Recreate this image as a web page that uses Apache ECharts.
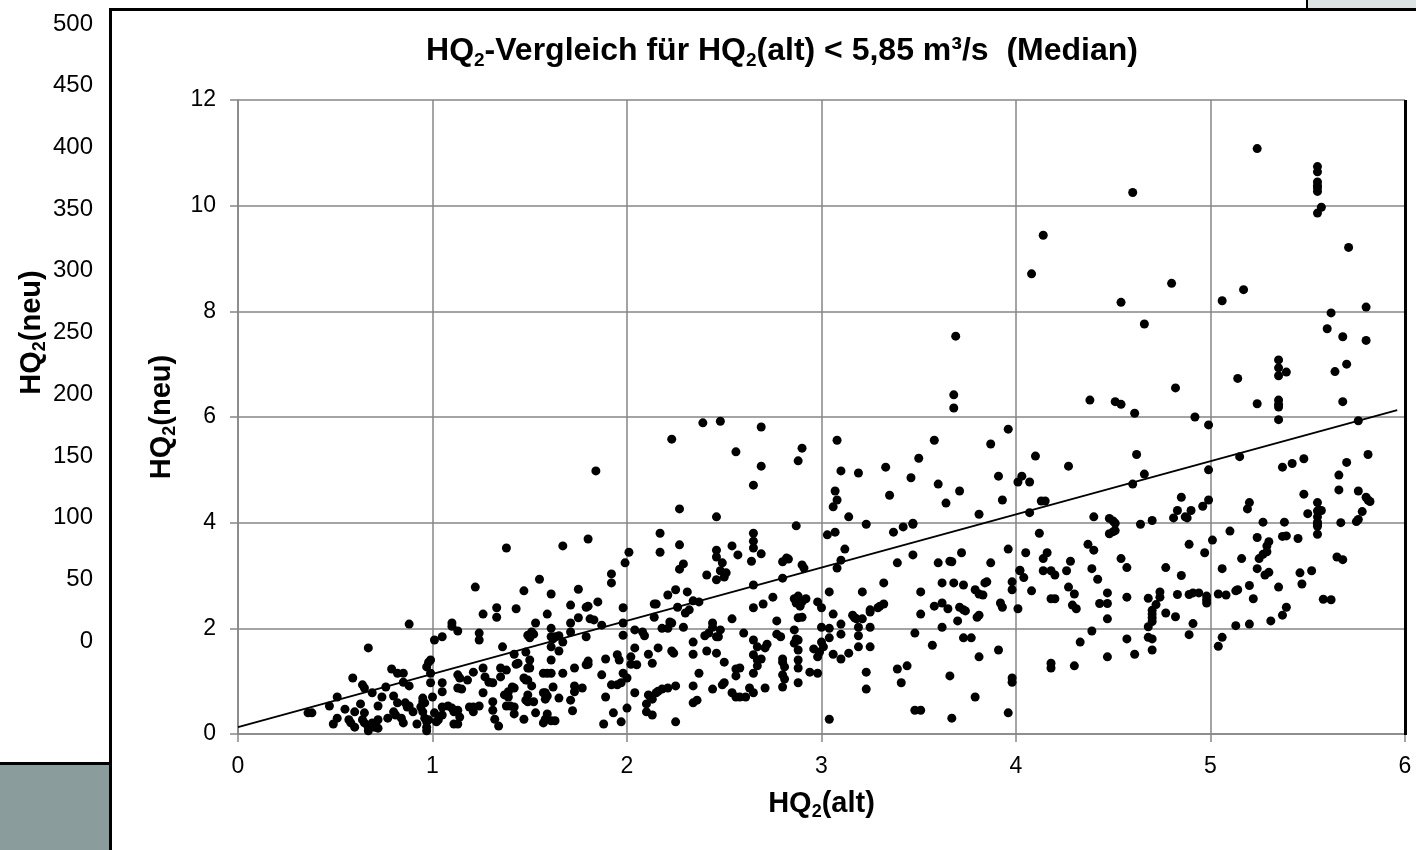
<!DOCTYPE html>
<html>
<head>
<meta charset="utf-8">
<script src="https://cdn.jsdelivr.net/npm/echarts@6/dist/echarts.min.js"></script>
<style>
html,body{margin:0;padding:0;background:#fff;}
#chart{width:1416px;height:850px;}
</style>
</head>
<body>
<div id="chart"></div>
<script>
// ---- DATA ----
// Each pair: [HQ2(alt), HQ2(neu)] in m³/s
const hqPoints = [
[0.36,0.40],[0.38,0.40],[0.47,0.53],[0.51,0.70],[0.49,0.19],[0.51,0.30],[0.55,0.47],[0.57,0.27],[0.58,0.21],[0.60,0.13],
[0.59,1.06],[0.60,0.42],[0.64,0.93],[0.65,0.87],[0.63,0.57],[0.64,0.27],[0.65,0.21],[0.67,0.13],[0.67,0.06],[0.69,0.21],
[0.70,0.13],[0.72,0.27],[0.72,0.11],[0.65,0.40],[0.67,1.63],[0.69,0.78],[0.72,0.53],[0.74,0.70],[0.76,0.89],[0.77,0.30],
[0.79,1.23],[0.80,0.72],[0.80,0.42],[0.81,0.36],[0.82,0.59],[0.82,1.15],[0.85,1.15],[0.85,0.98],[0.84,0.30],[0.85,0.21],
[0.86,0.59],[0.87,0.51],[0.88,0.53],[0.90,0.42],[0.88,2.08],[0.88,0.91],[0.92,0.19],[0.94,0.51],[0.95,0.61],[0.95,0.68],
[0.96,0.59],[0.95,0.42],[0.96,0.30],[0.97,0.23],[0.97,0.13],[0.98,0.27],[0.97,0.06],[0.97,1.27],[0.98,1.36],[0.99,1.40],
[0.99,1.15],[0.99,0.97],[1.00,0.70],[1.01,1.78],[1.05,1.84],[1.01,0.40],[1.02,0.23],[1.03,0.27],[1.05,0.97],[1.05,0.80],
[1.05,0.51],[1.05,0.36],[1.10,2.10],[1.10,2.04],[1.08,0.53],[1.10,0.49],[1.11,0.42],[1.13,0.45],[1.13,1.95],[1.13,1.12],
[1.14,1.06],[1.13,0.87],[1.15,0.85],[1.11,0.19],[1.13,0.19],[1.14,0.32],[1.18,1.02],[1.19,0.51],[1.21,0.51],[1.24,0.53],
[1.21,0.42],[1.22,2.78],[1.24,1.91],[1.24,1.78],[1.21,1.17],[1.26,2.27],[1.26,1.25],[1.27,1.08],[1.29,0.98],[1.31,0.97],
[1.26,0.78],[1.31,0.61],[1.31,0.45],[1.32,0.28],[1.34,0.15],[1.33,2.39],[1.33,2.21],[1.35,1.25],[1.36,1.65],[1.35,1.08],
[1.38,1.21],[1.37,0.74],[1.39,0.70],[1.39,0.80],[1.38,0.53],[1.40,0.53],[1.42,0.51],[1.42,0.38],[1.41,0.89],[1.42,0.87],
[1.43,2.37],[1.42,1.51],[1.43,1.32],[1.44,1.34],[1.47,2.71],[1.47,1.06],[1.48,1.02],[1.47,0.28],[1.48,1.55],[1.49,1.25],
[1.50,1.25],[1.50,1.40],[1.49,0.74],[1.48,0.64],[1.49,0.61],[1.49,1.02],[1.51,0.91],[1.52,0.61],[1.50,1.82],[1.49,1.87],
[1.51,1.93],[1.52,1.89],[1.53,2.10],[1.53,0.40],[1.55,2.93],[1.57,1.15],[1.59,1.15],[1.61,1.15],[1.57,0.78],[1.58,0.78],
[1.59,0.72],[1.58,0.66],[1.57,0.21],[1.58,0.28],[1.61,0.25],[1.63,0.25],[1.59,0.38],[1.59,2.27],[1.61,2.65],[1.61,2.00],
[1.61,1.84],[1.61,1.65],[1.61,1.40],[1.62,1.80],[1.63,1.84],[1.65,1.86],[1.65,1.57],[1.62,0.89],[1.65,0.68],[1.67,1.15],
[1.67,1.74],[1.71,0.64],[1.72,0.44],[1.71,2.10],[1.71,1.93],[1.71,2.44],[1.73,1.25],[1.73,0.80],[1.73,0.91],[1.75,2.74],
[1.75,2.20],[1.77,0.87],[1.79,2.40],[1.80,2.42],[1.79,1.84],[1.79,1.31],[1.80,1.32],[1.80,1.38],[1.81,2.18],[1.83,2.16],
[1.85,2.50],[1.87,2.06],[1.87,1.12],[1.89,1.42],[1.89,0.70],[1.88,0.19],[1.92,3.03],[1.92,2.86],[1.92,0.93],[1.93,0.40],
[1.95,1.50],[1.96,1.40],[1.95,0.93],[1.97,0.97],[1.97,0.23],[1.98,2.39],[1.99,3.24],[2.00,1.06],[2.00,0.49],
[1.38,3.52],[1.67,3.56],[1.80,3.69],[1.84,4.98],
[1.98,2.10],[1.98,1.87],[1.98,1.15],[2.02,1.46],[2.02,1.32],[2.05,1.31],[2.04,1.97],[2.04,1.63],[2.08,1.93],[2.09,1.86],
[2.04,0.78],[2.11,1.51],[2.13,1.34],[2.16,1.63],[2.10,0.57],[2.10,0.42],[2.11,0.74],[2.12,0.70],[2.13,0.66],[2.13,0.36],
[2.15,0.78],[2.16,0.81],[2.18,0.85],[2.14,2.46],[2.15,2.46],[2.14,2.21],[2.18,2.00],[2.21,2.00],[2.22,2.12],[2.23,2.10],
[2.21,2.63],[2.25,2.73],[2.31,2.69],[2.26,2.40],[2.30,2.29],[2.32,2.35],[2.29,2.02],[2.34,2.52],[2.37,2.50],[2.23,1.57],
[2.24,1.53],[2.21,0.87],[2.25,0.91],[2.25,0.23],[2.34,1.74],[2.34,1.51],[2.37,1.15],[2.34,0.91],[2.34,0.59],[2.36,0.64],
[2.27,3.12],[2.29,3.22],[2.41,3.01],[2.46,2.92],[2.48,3.09],[2.49,3.24],[2.50,2.97],[2.51,3.05],[2.40,1.86],[2.42,1.91],
[2.44,2.10],[2.44,2.02],[2.46,1.84],[2.48,1.97],[2.47,1.84],[2.41,1.57],[2.46,1.53],[2.50,1.36],[2.44,0.85],[2.49,0.93],
[2.50,0.97],[2.54,2.18],[2.54,0.78],[2.56,0.70],[2.58,0.70],[2.61,0.70],[2.63,0.87],[2.65,0.78],[2.56,1.23],[2.58,1.25],
[2.56,1.10],[2.60,1.91],[2.65,2.82],[2.65,2.39],[2.65,1.78],[2.67,1.65],[2.65,1.50],[2.67,1.40],[2.69,1.42],[2.67,1.29],
[2.65,1.15],[2.70,2.46],[2.71,0.87],[2.72,1.70],[2.71,1.63],[2.75,2.59],[2.77,2.14],[2.80,2.95],[2.77,1.89],[2.79,1.84],
[2.80,1.42],[2.80,1.36],[2.81,1.27],[2.80,1.12],[2.81,1.04],[2.80,0.89],[2.86,2.56],[2.87,2.48],[2.88,2.61],[2.90,2.50],
[2.92,2.56],[2.89,2.42],[2.88,2.20],[2.90,2.21],[2.86,1.97],[2.87,1.80],[2.88,1.78],[2.86,1.72],[2.88,1.59],[2.88,1.40],
[2.88,1.25],[2.88,0.97],[2.94,1.17],[2.90,3.20],[2.91,3.14],[2.96,1.61],[2.98,1.15],[2.98,1.46],[2.98,2.50],[3.00,2.39],
[3.00,2.02],[3.00,1.74],[3.01,1.65],[2.99,1.55],
[2.01,3.44],[2.17,3.80],[2.17,3.44],[2.23,5.58],[2.27,4.26],[2.27,3.58],[2.39,5.89],[2.48,5.92],[2.46,4.11],[2.46,3.48],
[2.46,3.35],[2.54,3.56],[2.57,3.39],[2.56,5.34],[2.65,4.71],[2.69,5.81],[2.69,5.07],[2.65,3.80],[2.65,3.65],[2.65,3.52],
[2.64,3.27],[2.69,3.41],[2.80,3.26],[2.82,3.33],[2.83,3.31],[2.87,3.94],[2.88,5.17],[2.90,5.41],[3.08,5.56],[3.10,4.98],
[3.07,4.60],[3.08,4.43],[3.06,4.30],[3.14,4.11],[3.03,3.77],[3.07,3.82],[3.12,3.50],[3.10,3.29],[3.19,4.94],[3.23,3.97],
[3.33,5.05],[3.35,4.52],[3.37,3.82],[3.42,3.92],[3.47,3.97],[3.47,3.99],[3.47,3.39],[3.46,4.85],[3.50,5.22],[3.58,5.56],
[3.60,4.73],[3.64,4.37],[3.71,4.60],[3.68,6.42],[3.68,6.17],[3.66,3.27],[3.72,3.43],[3.81,4.16],[3.87,5.49],[3.91,4.88],
[3.93,4.43],[3.96,5.77],[3.96,3.50],[4.01,4.77],[4.03,4.88],[4.07,4.77],[4.10,5.26],[4.12,3.80],[4.13,4.41],[4.15,4.41],
[3.69,7.53],
[3.08,3.14],[3.04,2.69],[3.06,2.27],[3.04,2.00],[3.04,1.82],[3.06,1.51],[3.10,1.42],[3.10,2.08],[3.10,1.89],[3.14,1.53],
[3.16,2.25],[3.17,2.20],[3.18,2.18],[3.19,2.02],[3.19,1.86],[3.19,1.65],[3.21,2.69],[3.21,2.18],[3.25,2.35],[3.25,2.31],
[3.25,2.02],[3.25,1.65],[3.23,1.17],[3.23,0.85],[3.04,0.28],[3.29,2.39],[3.30,2.42],[3.32,2.46],[3.32,2.86],[3.39,3.24],
[3.39,1.23],[3.41,0.97],[3.44,1.29],[3.48,1.91],[3.51,2.69],[3.51,2.27],[3.48,0.45],[3.51,0.45],[3.57,1.68],[3.58,2.42],
[3.62,2.48],[3.65,2.37],[3.60,3.24],[3.67,3.26],[3.62,2.86],[3.68,2.86],[3.73,2.82],[3.62,2.02],[3.66,1.10],[3.67,0.30],
[3.70,2.14],[3.71,2.40],[3.73,2.35],[3.74,2.33],[3.73,1.82],[3.77,1.82],[3.79,0.70],[3.79,2.73],[3.81,2.65],[3.83,2.63],
[3.84,2.86],[3.85,2.88],[3.80,2.21],[3.81,2.25],[3.81,1.46],[3.87,3.24],[3.91,1.59],[3.92,2.48],[3.93,2.40],[3.96,0.40],
[3.98,2.88],[3.98,2.73],[3.98,1.06],[3.98,0.98],[4.01,2.37],[4.02,3.10],
[4.18,1.34],[4.18,1.25],[4.30,1.29],
[5.24,11.08],[5.55,10.74],[5.55,10.64],[5.55,10.45],[5.55,10.38],[5.55,10.34],[5.55,10.27],[5.57,9.97],[5.55,9.86],[4.60,10.25],
[4.14,9.44],[5.71,9.21],[4.08,8.71],[4.80,8.53],[5.17,8.41],[5.06,8.20],[4.54,8.17],[4.66,7.76],[5.62,7.97],[5.80,8.08],
[5.60,7.67],[5.68,7.52],[5.80,7.45],[5.35,7.08],[5.35,6.93],[5.35,6.78],[5.39,6.85],[5.70,7.00],[5.64,6.86],[5.14,6.73],
[4.82,6.55],[5.68,6.29],[5.35,6.32],[5.35,6.24],[5.35,6.19],[5.24,6.25],[5.35,5.95],[5.76,5.93],[4.38,6.32],[4.51,6.29],
[4.54,6.24],[4.61,6.07],[4.92,6.00],[4.99,5.85],[4.27,5.07],[4.62,5.29],[4.66,4.92],[4.60,4.73],[4.07,4.19],[4.05,3.43],
[4.14,3.32],[4.16,3.43],[4.02,3.09],[4.04,2.96],[4.08,2.71],[4.14,3.09],[4.18,3.09],[4.20,3.01],[4.18,2.56],[4.20,2.56],
[4.26,3.09],[4.28,3.27],[4.27,2.78],[4.30,2.65],[4.29,2.44],[4.31,2.37],[4.33,1.74],[4.37,3.59],[4.40,3.48],[4.40,4.11],
[4.39,3.13],[4.42,2.93],[4.39,1.95],[4.43,2.47],[4.47,2.47],[4.47,2.67],[4.47,2.18],[4.47,1.46],[4.48,4.08],[4.50,4.03],
[4.51,3.99],[4.48,3.79],[4.50,3.83],[4.51,3.85],[4.54,3.32],[4.57,3.15],[4.57,2.59],[4.57,1.80],[4.61,1.51],[4.64,3.97],
[4.70,4.04],[4.68,2.57],[4.68,2.03],[4.68,1.83],[4.70,2.34],[4.70,2.27],[4.70,2.20],[4.70,2.13],[4.70,1.80],[4.70,1.59],
[4.72,2.45],[4.74,2.69],[4.74,2.59],[4.77,3.15],[4.77,2.29],[4.82,2.22],[4.81,4.09],[4.83,4.23],[4.85,4.48],[4.85,3.00],
[4.83,2.64],[4.87,4.11],[4.88,4.09],[4.90,4.23],[4.89,3.59],[4.89,2.64],[4.91,2.67],[4.94,2.67],[4.91,2.09],[4.89,1.88],
[4.96,4.31],[4.99,4.43],[4.99,5.00],[4.97,3.43],[4.98,2.61],[4.98,2.54],[4.98,2.48],[5.01,3.67],[5.04,1.66],[5.04,2.65],
[5.08,2.63],[5.06,3.13],[5.06,1.83],[5.10,3.84],[5.13,2.71],[5.14,2.73],[5.13,2.05],[5.15,5.25],[5.16,3.32],[5.19,4.26],
[5.20,4.38],[5.20,2.81],[5.22,2.56],[5.20,2.08],[5.24,3.72],[5.27,4.01],[5.24,3.13],[5.25,3.32],[5.27,3.40],[5.29,3.45],
[5.29,3.56],[5.30,3.64],[5.28,3.01],[5.30,3.06],[5.31,2.14],[5.35,2.78],[5.37,2.25],[5.39,2.40],[5.37,5.05],[5.42,5.12],
[5.48,5.21],[5.38,4.01],[5.37,3.74],[5.39,3.75],[5.45,3.70],[5.46,3.05],[5.47,2.84],[5.48,4.54],[5.50,4.17],[5.52,3.09],
[5.55,4.38],[5.55,4.22],[5.56,4.23],[5.57,4.23],[5.55,4.11],[5.55,4.01],[5.55,3.97],[5.55,3.93],[5.55,3.78],[5.58,2.55],
[5.62,2.54],[5.66,4.90],[5.66,4.62],[5.70,5.14],[5.65,3.35],[5.68,3.30],[5.67,4.00],[5.75,4.02],[5.76,4.06],[5.78,4.21],
[5.76,4.60],[5.80,4.48],[5.81,4.43],[5.82,4.40],[5.81,5.29]
];

// Linear trend line endpoints [HQ2(alt), HQ2(neu)]
const trendAlt = [0, 5.96];
const trendNeu = [0.13, 6.13];

// Axis scales / tick labels
const xAxisTicks = {min: 0, max: 6, interval: 1};
const yAxisTicks = {min: 0, max: 12, interval: 2};
const bgAxisTicks = {min: 0, max: 500, interval: 50};

const titleParts = ['HQ', '2', '-Vergleich für HQ', '2', '(alt) < 5,85 m³/s  (Median)'];
const xName = ['HQ', '2', '(alt)'];
const yName = ['HQ', '2', '(neu)'];

// ---- CHART ----
const FONT = '"Liberation Sans", Arial, sans-serif';
const GRID = '#868686';
function richName(parts){
  return parts.map((p,i)=> (i%2===1 ? '{s|'+p+'}' : '{b|'+p+'}')).join('');
}
function richStyle(size, sub){
  return {
    b: {fontFamily: FONT, fontWeight: 'bold', fontSize: size, color: '#000', lineHeight: Math.round(size*1.2)},
    s: {fontFamily: FONT, fontWeight: 'bold', fontSize: sub, color: '#000', lineHeight: sub, verticalAlign: 'bottom'}
  };
}

const chart = echarts.init(document.getElementById('chart'), null, {renderer: 'canvas'});
const trendData = trendAlt.map((x,i)=>[x, trendNeu[i]]);

const option = {
  backgroundColor: '#ffffff',
  animation: false,
  title: {
    text: richName(titleParts),
    left: 777,
    top: 27,
    textAlign: 'center',
    textStyle: {rich: richStyle(32, 19)}
  },
  graphic: [
    {type: 'rect', shape: {x: 0, y: 765, width: 109, height: 85}, style: {fill: '#8b9c9c'}, z: 0},
    {type: 'rect', shape: {x: 0, y: 762, width: 110, height: 3}, style: {fill: '#000'}, z: 1},
    {type: 'rect', shape: {x: 1308, y: 0, width: 108, height: 8}, style: {fill: '#dce3e3'}, z: 0},
    {type: 'rect', shape: {x: 1306, y: 0, width: 2, height: 9}, style: {fill: '#000'}, z: 1},
    {type: 'rect', shape: {x: 109, y: 8, width: 3, height: 842}, style: {fill: '#000'}, z: 1},
    {type: 'rect', shape: {x: 109, y: 8, width: 1307, height: 3}, style: {fill: '#000'}, z: 1},
    {type: 'rect', shape: {x: 1404, y: 100, width: 3, height: 635}, style: {fill: '#000'}, z: 100}
  ],
  grid: [
    {left: 238, right: 11, top: 100, bottom: 116, containLabel: false},
    {left: 100, width: 1, top: 24, bottom: 209, containLabel: false}
  ],
  xAxis: [
    {
      type: 'value', gridIndex: 0,
      min: xAxisTicks.min, max: xAxisTicks.max, interval: xAxisTicks.interval,
      name: richName(xName), nameLocation: 'middle', nameGap: 52,
      nameTextStyle: {rich: richStyle(29, 18)},
      axisLine: {show: true, onZero: false, lineStyle: {color: GRID, width: 1.5}},
      axisTick: {show: true, inside: false, length: 8, lineStyle: {color: GRID, width: 1.5}},
      axisLabel: {fontFamily: FONT, fontSize: 23, color: '#000', margin: 21},
      splitLine: {show: true, lineStyle: {color: GRID, width: 1.5}}
    },
    {type: 'value', gridIndex: 1, min: 0, max: 1, show: false}
  ],
  yAxis: [
    {
      type: 'value', gridIndex: 0,
      min: yAxisTicks.min, max: yAxisTicks.max, interval: yAxisTicks.interval,
      name: richName(yName), nameLocation: 'middle', nameGap: 54, nameRotate: 90,
      nameTextStyle: {rich: richStyle(29, 18)},
      axisLine: {show: true, lineStyle: {color: GRID, width: 1.5}},
      axisTick: {show: true, inside: false, length: 8, lineStyle: {color: GRID, width: 1.5}},
      axisLabel: {fontFamily: FONT, fontSize: 23, color: '#000', margin: 22},
      splitLine: {show: true, lineStyle: {color: GRID, width: 1.5}}
    },
    {
      type: 'value', gridIndex: 1,
      min: bgAxisTicks.min, max: bgAxisTicks.max, interval: bgAxisTicks.interval,
      name: richName(yName), nameLocation: 'middle', nameGap: 50, nameRotate: 90,
      nameTextStyle: {rich: richStyle(29, 18)},
      axisLine: {show: false}, axisTick: {show: false}, splitLine: {show: false},
      axisLabel: {fontFamily: FONT, fontSize: 24, color: '#000', margin: 7}
    }
  ],
  series: [
    {
      type: 'scatter', xAxisIndex: 0, yAxisIndex: 0,
      data: hqPoints, symbol: 'circle', symbolSize: 9,
      itemStyle: {color: '#000', opacity: 1}, z: 3
    },
    {
      type: 'line', xAxisIndex: 0, yAxisIndex: 0,
      data: trendData, symbol: 'none',
      lineStyle: {color: '#000', width: 2}, z: 4
    }
  ]
};
chart.setOption(option);
</script>
</body>
</html>
